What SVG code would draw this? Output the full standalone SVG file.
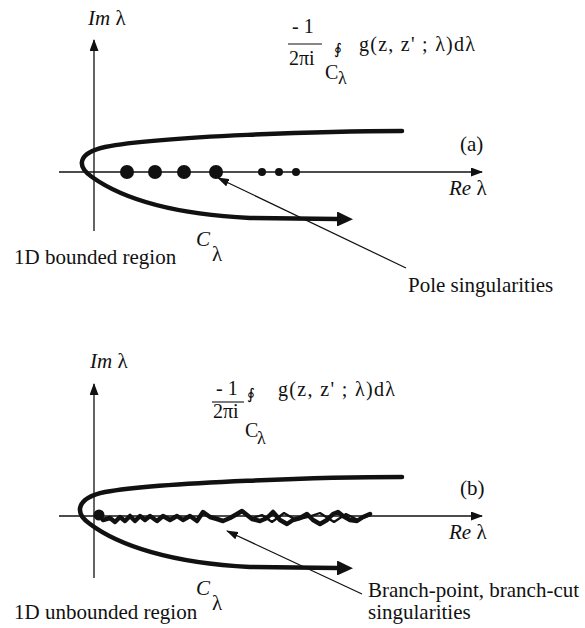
<svg xmlns="http://www.w3.org/2000/svg" width="585" height="628" viewBox="0 0 585 628">
<style>
  text { font-family: "Liberation Serif", "Times New Roman", serif; fill: #111; }
  .lbl { font-size: 21px; }
  .fm { font-size: 20px; }
  .sub { font-size: 18px; }
  .oint { font-family: "DejaVu Sans", sans-serif; font-size: 15px; fill: #000; }
  .it { font-style: italic; }
  .axis { stroke: #111; stroke-width: 1.3; fill: none; }
  .ptr { stroke: #111; stroke-width: 1.2; fill: none; }
  .contour { stroke: #111; stroke-width: 4.5; fill: none; stroke-linecap: round; }
  .frac { stroke: #111; stroke-width: 1.1; }
  .wig { stroke: #111; stroke-width: 4.5; fill: none; stroke-linejoin: round; stroke-linecap: round; }
</style>
<defs>
  <marker id="axh" viewBox="0 0 12 9" refX="11" refY="4.5" markerWidth="12" markerHeight="9" markerUnits="userSpaceOnUse" orient="auto">
    <path d="M0,0 L12,4.5 L0,9 z" fill="#111"/>
  </marker>
  <marker id="ph" viewBox="0 0 12 8" refX="11" refY="4" markerWidth="12" markerHeight="8" markerUnits="userSpaceOnUse" orient="auto">
    <path d="M0,0 L12,4 L0,8 z" fill="#111"/>
  </marker>
  <marker id="ch" viewBox="0 0 16 15" refX="0" refY="7.5" markerWidth="16" markerHeight="15" markerUnits="userSpaceOnUse" orient="auto">
    <path d="M0,0 L16,7.5 L0,15 z" fill="#111"/>
  </marker>
</defs>

<!-- Panel (a) -->
<g id="panel-a">
  <g id="axes-a">
    <line class="axis" x1="94" y1="231" x2="94" y2="40" marker-end="url(#axh)"/>
    <line class="axis" x1="59" y1="172" x2="482" y2="172" marker-end="url(#axh)"/>
    <text class="lbl" x="88" y="25"><tspan class="it">Im</tspan> λ</text>
    <text class="lbl" x="449" y="195"><tspan class="it">Re</tspan> λ</text>
    <text class="lbl" x="460" y="151">(a)</text>
  </g>
  <g id="formula-a">
    <text class="fm" x="292" y="33">- 1</text>
    <line class="frac" x1="288" y1="44" x2="322" y2="44"/>
    <text class="fm" x="289" y="65">2πi</text>
    <text class="oint" x="334" y="54">∮</text>
    <text class="fm" x="359" y="51" textLength="116" lengthAdjust="spacing">g(z, z' ; λ)dλ</text>
    <text class="fm" x="325" y="79">C</text>
    <text class="sub" x="338" y="84">λ</text>
  </g>
  <g id="contour-a">
    <path class="contour" d="M402,131 C330,131 160,136 105,147 C78,153 76,166 92,177 C120,197 170,214 250,218 L337,219" marker-end="url(#ch)"/>
    <text class="lbl it" x="196" y="246">C</text>
    <text class="lbl" x="212" y="261">λ</text>
  </g>
  <g id="poles-a" fill="#111">
    <circle cx="127" cy="172" r="7"/>
    <circle cx="155" cy="172" r="7"/>
    <circle cx="184" cy="172" r="7"/>
    <circle cx="216" cy="172" r="7"/>
    <circle cx="262" cy="172" r="4"/>
    <circle cx="279" cy="172" r="4"/>
    <circle cx="296" cy="172" r="4"/>
  </g>
  <g id="region-a">
    <text class="lbl" x="14" y="264">1D bounded region</text>
  </g>
  <g id="pole-label">
    <text class="lbl" x="408" y="292">Pole singularities</text>
  </g>
</g>

<!-- Panel (b) -->
<g id="panel-b">
  <g id="axes-b">
    <line class="axis" x1="94" y1="578" x2="94" y2="384" marker-end="url(#axh)"/>
    <line class="axis" x1="59" y1="516" x2="482" y2="516" marker-end="url(#axh)"/>
    <text class="lbl" x="90" y="368"><tspan class="it">Im</tspan> λ</text>
    <text class="lbl" x="449" y="539"><tspan class="it">Re</tspan> λ</text>
    <text class="lbl" x="460" y="495">(b)</text>
  </g>
  <g id="formula-b">
    <text class="fm" x="216" y="395">- 1</text>
    <line class="frac" x1="212" y1="402" x2="244" y2="402"/>
    <text class="fm" x="213" y="418">2πi</text>
    <text class="oint" x="247" y="399">∮</text>
    <text class="fm" x="278" y="396" textLength="117" lengthAdjust="spacing">g(z, z' ; λ)dλ</text>
    <text class="fm" x="245" y="437">C</text>
    <text class="sub" x="257" y="444">λ</text>
  </g>
  <g id="contour-b">
    <path class="contour" d="M402,477 C330,477 160,482 105,492 C76,498 74,513 90,524 C118,545 170,563 250,567 L337,568" marker-end="url(#ch)"/>
    <text class="lbl it" x="196" y="595">C</text>
    <text class="lbl" x="212" y="610">λ</text>
  </g>
  <g id="branch-cut">
    <circle cx="99" cy="515" r="5.5" fill="#111"/>
    <path class="wig" d="M103,520 L110,518 L115,522 L120,517 L125,521 L130,516 L135,521 L140,516 L145,520 L150,516 L157,521 L163,516 L170,520 L177,516 L183,520 L190,516 L197,521 L203,512 L210,517 L217,519 L223,521 L230,518 L237,514 L242,511 L247,515 L252,519 L260,521 L267,518 L273,512 L280,520 L287,524 L293,520 L300,518 L307,514 L313,520 L320,524 L327,520 L333,514 L338,512 L343,516 L350,520 L357,521 L363,517 L370,514"/>
    <path d="M250,519 L262,515 L272,522 L284,513 L296,520 L308,517 L320,513 L334,522 L346,514 L358,520 L371,515" stroke="#111" stroke-width="2.2" fill="none" stroke-linejoin="round"/>
  </g>
  <g id="region-b">
    <text class="lbl" x="14" y="619">1D unbounded region</text>
  </g>
  <g id="branch-label">
    <text class="lbl" x="368" y="597">Branch-point, branch-cut</text>
    <text class="lbl" x="368" y="619">singularities</text>
  </g>
</g>

<g id="connectors">
  <line class="ptr" x1="406" y1="268" x2="218" y2="178" marker-end="url(#ph)"/>
  <line class="ptr" x1="362" y1="594" x2="227" y2="531" marker-end="url(#ph)"/>
</g>
</svg>
